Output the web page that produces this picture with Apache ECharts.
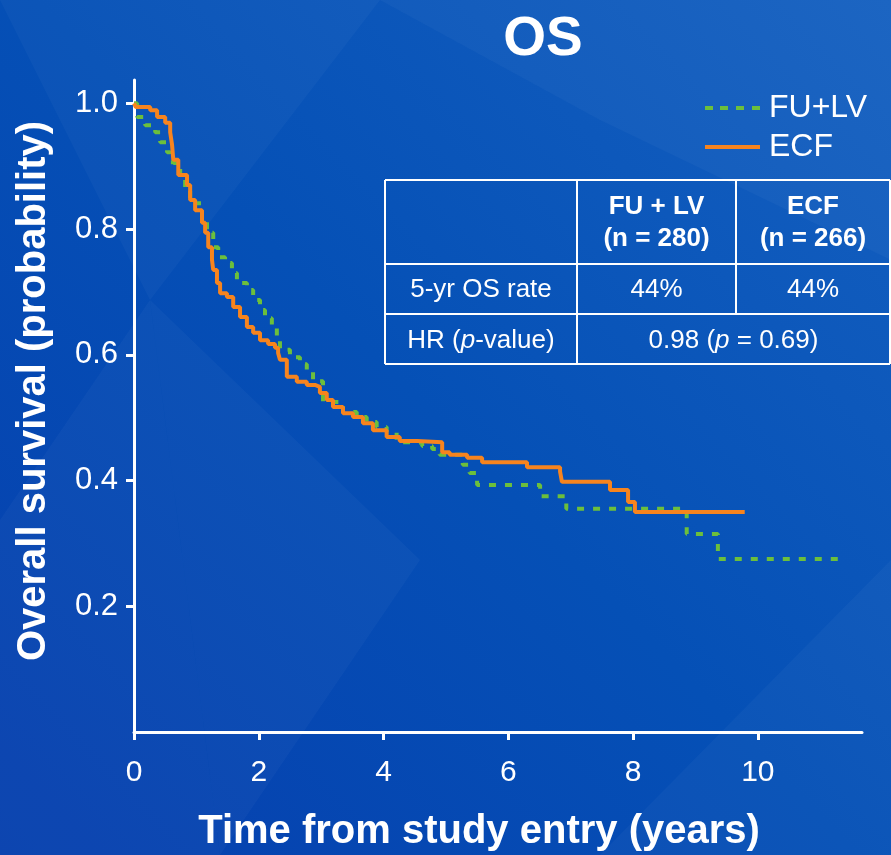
<!DOCTYPE html>
<html>
<head>
<meta charset="utf-8">
<script src="https://cdn.jsdelivr.net/npm/echarts@6/dist/echarts.min.js"></script>
<style>
html,body{margin:0;padding:0;background:#0a4db5;}
#c{width:891px;height:855px;}
</style>
</head>
<body>
<div id="c"></div>
<script>
// ---- Data ----
const ecfTime = [0, 0.03, 0.26, 0.37, 0.50, 0.58, 0.61, 0.63, 0.71, 0.85, 0.90, 0.98, 1.09, 1.14, 1.19, 1.25, 1.27, 1.33, 1.38, 1.49, 1.59, 1.70, 1.81, 1.91, 2.02, 2.15, 2.26, 2.31, 2.34, 2.45, 2.61, 2.77, 2.90, 2.98, 3.09, 3.19, 3.35, 3.51, 3.67, 3.83, 4.05, 4.26, 4.54, 4.94, 5.06, 5.34, 5.58, 6.30, 6.83, 6.86, 7.63, 7.92, 8.03, 9.79];
const ecfSurv = [1.0, 0.994, 0.989, 0.978, 0.969, 0.954, 0.934, 0.910, 0.886, 0.870, 0.846, 0.830, 0.810, 0.794, 0.771, 0.751, 0.735, 0.714, 0.698, 0.692, 0.676, 0.660, 0.644, 0.635, 0.623, 0.617, 0.611, 0.603, 0.592, 0.565, 0.557, 0.552, 0.549, 0.539, 0.528, 0.517, 0.507, 0.501, 0.491, 0.480, 0.469, 0.463, 0.461, 0.445, 0.441, 0.436, 0.429, 0.421, 0.414, 0.398, 0.385, 0.366, 0.350, 0.350];

const fulvTime = [0, 0.05, 0.18, 0.34, 0.42, 0.53, 0.58, 0.66, 0.74, 0.82, 0.90, 1.09, 1.17, 1.27, 1.35, 1.46, 1.57, 1.65, 1.81, 1.91, 2.02, 2.10, 2.21, 2.29, 2.34, 2.50, 2.66, 2.77, 2.87, 3.03, 3.35, 3.57, 3.73, 3.89, 4.05, 4.21, 4.42, 4.62, 4.78, 4.90, 5.27, 5.38, 5.50, 6.51, 6.93, 8.86, 9.36, 11.39];
const fulvSurv = [1.0, 0.978, 0.965, 0.954, 0.938, 0.922, 0.906, 0.897, 0.878, 0.862, 0.841, 0.814, 0.794, 0.771, 0.755, 0.746, 0.730, 0.714, 0.703, 0.687, 0.671, 0.658, 0.643, 0.623, 0.608, 0.596, 0.585, 0.573, 0.558, 0.525, 0.509, 0.501, 0.493, 0.485, 0.477, 0.461, 0.460, 0.455, 0.450, 0.441, 0.425, 0.412, 0.393, 0.375, 0.355, 0.315, 0.275, 0.275];

const seriesNames = ['FU+LV', 'ECF'];
const titleText = 'OS';
const xAxisName = 'Time from study entry (years)';
const yAxisName = 'Overall survival (probability)';
const tableHeader = [['FU + LV', '(n = 280)'], ['ECF', '(n = 266)']];
const tableRowLabels = ['5-yr OS rate', 'HR (p-value)'];
const osRates = ['44%', '44%'];
const hrText = ['0.98 (', 'p', ' = 0.69)'];

const FONT = '"Liberation Sans", Arial, sans-serif';
const GREEN = '#6cbf3c';
const ORANGE = '#f7841e';

const zip = (a, b) => a.map((v, i) => [v, b[i]]);

const chart = echarts.init(document.getElementById('c'), null, {renderer: 'canvas'});

// table geometry
const tX0 = 385, tX1 = 577, tX2 = 736, tX3 = 890;
const tY0 = 180, tY1 = 264, tY2 = 314, tY3 = 364;
const lineStyle = {stroke: '#ffffff', lineWidth: 2};
function hline(x1, x2, y) { return {type: 'line', shape: {x1, y1: y, x2, y2: y}, style: lineStyle, z: 10}; }
function vline(x, y1, y2) { return {type: 'line', shape: {x1: x, y1, x2: x, y2}, style: lineStyle, z: 10}; }
function txt(x, y, text, bold, rich) {
  return {type: 'text', x, y, z: 11, style: {text, fill: '#ffffff', font: (bold ? 'bold ' : '') + '26px ' + FONT, textAlign: 'center', textVerticalAlign: 'middle', rich}};
}
const richNorm = {n: {fontSize: 26, fontFamily: FONT, color: '#fff'}, i: {fontSize: 26, fontFamily: FONT, fontStyle: 'italic', color: '#fff'}};

const bgPolys = [
  [[0,0],[380,0],[150,300]],
  [[380,0],[891,0],[891,260],[600,120]],
  [[0,520],[150,300],[220,855],[0,855]],
  [[600,855],[891,560],[891,855]],
  [[150,300],[420,560],[220,855]]
];

const dashIcon = 'path://M0,0h8v4h-8z M15,0h8v4h-8z M31,0h8v4h-8z M47,0h8v4h-8z';
const solidIcon = 'path://M0,0h55v4h-55z';

chart.setOption({
  backgroundColor: {
    type: 'linear', x: 1, y: 0, x2: 0, y2: 1,
    colorStops: [{offset: 0, color: '#1560c0'}, {offset: 0.5, color: '#0550b6'}, {offset: 1, color: '#063fae'}]
  },
  animation: false,
  textStyle: {fontFamily: FONT},
  title: {
    text: titleText, left: 538, top: 7, textAlign: 'center',
    textStyle: {color: '#fff', fontSize: 55, fontWeight: 'bold', fontFamily: FONT}
  },
  legend: {
    orient: 'vertical', left: 700, top: 87, itemWidth: 55, itemHeight: 4, itemGap: 7,
    textStyle: {color: '#fff', fontSize: 32, fontFamily: FONT, padding: [0, 0, 0, 4]},
    data: [{name: seriesNames[0], icon: dashIcon}, {name: seriesNames[1], icon: solidIcon}]
  },
  grid: {left: 134, right: 29, top: 80, bottom: 123, containLabel: false, outerBoundsMode: 'none'},
  xAxis: {
    type: 'value', min: 0, max: 11.67, interval: 2,
    name: xAxisName, nameLocation: 'middle', nameGap: 80,
    nameTextStyle: {color: '#fff', fontSize: 40, fontWeight: 'bold', fontFamily: FONT, padding: [0, 38, 0, 0]},
    axisLine: {lineStyle: {color: '#fff', width: 3}},
    axisTick: {show: true, length: 8, lineStyle: {color: '#fff', width: 3}},
    axisLabel: {color: '#fff', fontSize: 30, margin: 26, showMaxLabel: false, fontFamily: FONT,
      formatter: v => (Math.abs(v - Math.round(v)) < 1e-6 ? String(Math.round(v)) : '')},
    splitLine: {show: false}
  },
  yAxis: {
    type: 'value', min: 0, max: 1.037, interval: 0.2,
    name: yAxisName, nameLocation: 'middle', nameGap: 80, nameRotate: 90,
    nameTextStyle: {color: '#fff', fontSize: 40, fontWeight: 'bold', fontFamily: FONT, padding: [0, 0, 0, 30]},
    axisLine: {show: true, lineStyle: {color: '#fff', width: 3}},
    axisTick: {show: true, length: 8, lineStyle: {color: '#fff', width: 3}},
    axisLabel: {color: '#fff', fontSize: 31, margin: 16, showMinLabel: false, showMaxLabel: false, fontFamily: FONT,
      formatter: v => v.toFixed(1)},
    splitLine: {show: false}
  },
  series: [
    {
      name: seriesNames[0], type: 'line', step: 'end', symbol: 'none',
      data: zip(fulvTime, fulvSurv),
      lineStyle: {color: GREEN, width: 4, type: [7, 9]},
      itemStyle: {color: GREEN}, z: 2
    },
    {
      name: seriesNames[1], type: 'line', step: 'end', symbol: 'none',
      data: zip(ecfTime, ecfSurv),
      lineStyle: {color: ORANGE, width: 4},
      itemStyle: {color: ORANGE}, z: 3
    }
  ],
  graphic: [
    ...bgPolys.map(p => ({type: 'polygon', shape: {points: p}, style: {fill: 'rgba(255,255,255,0.03)'}, z: -10, silent: true})),
    hline(tX0, tX3, tY0), hline(tX0, tX3, tY1), hline(tX0, tX3, tY2), hline(tX0, tX3, tY3),
    vline(tX0, tY0, tY3), vline(tX3, tY0, tY3), vline(tX1, tY0, tY3), vline(tX2, tY0, tY2),
    txt((tX1 + tX2) / 2, 207, tableHeader[0][0], true),
    txt((tX1 + tX2) / 2, 239, tableHeader[0][1], true),
    txt((tX2 + tX3) / 2, 207, tableHeader[1][0], true),
    txt((tX2 + tX3) / 2, 239, tableHeader[1][1], true),
    txt((tX0 + tX1) / 2, 290, tableRowLabels[0], false),
    txt((tX1 + tX2) / 2, 290, osRates[0], false),
    txt((tX2 + tX3) / 2, 290, osRates[1], false),
    txt((tX0 + tX1) / 2, 341, '{n|HR (}{i|p}{n|-value)}', false, richNorm),
    txt((tX1 + tX3) / 2, 341, '{n|' + hrText[0] + '}{i|' + hrText[1] + '}{n|' + hrText[2] + '}', false, richNorm)
  ]
});
</script>
</body>
</html>
